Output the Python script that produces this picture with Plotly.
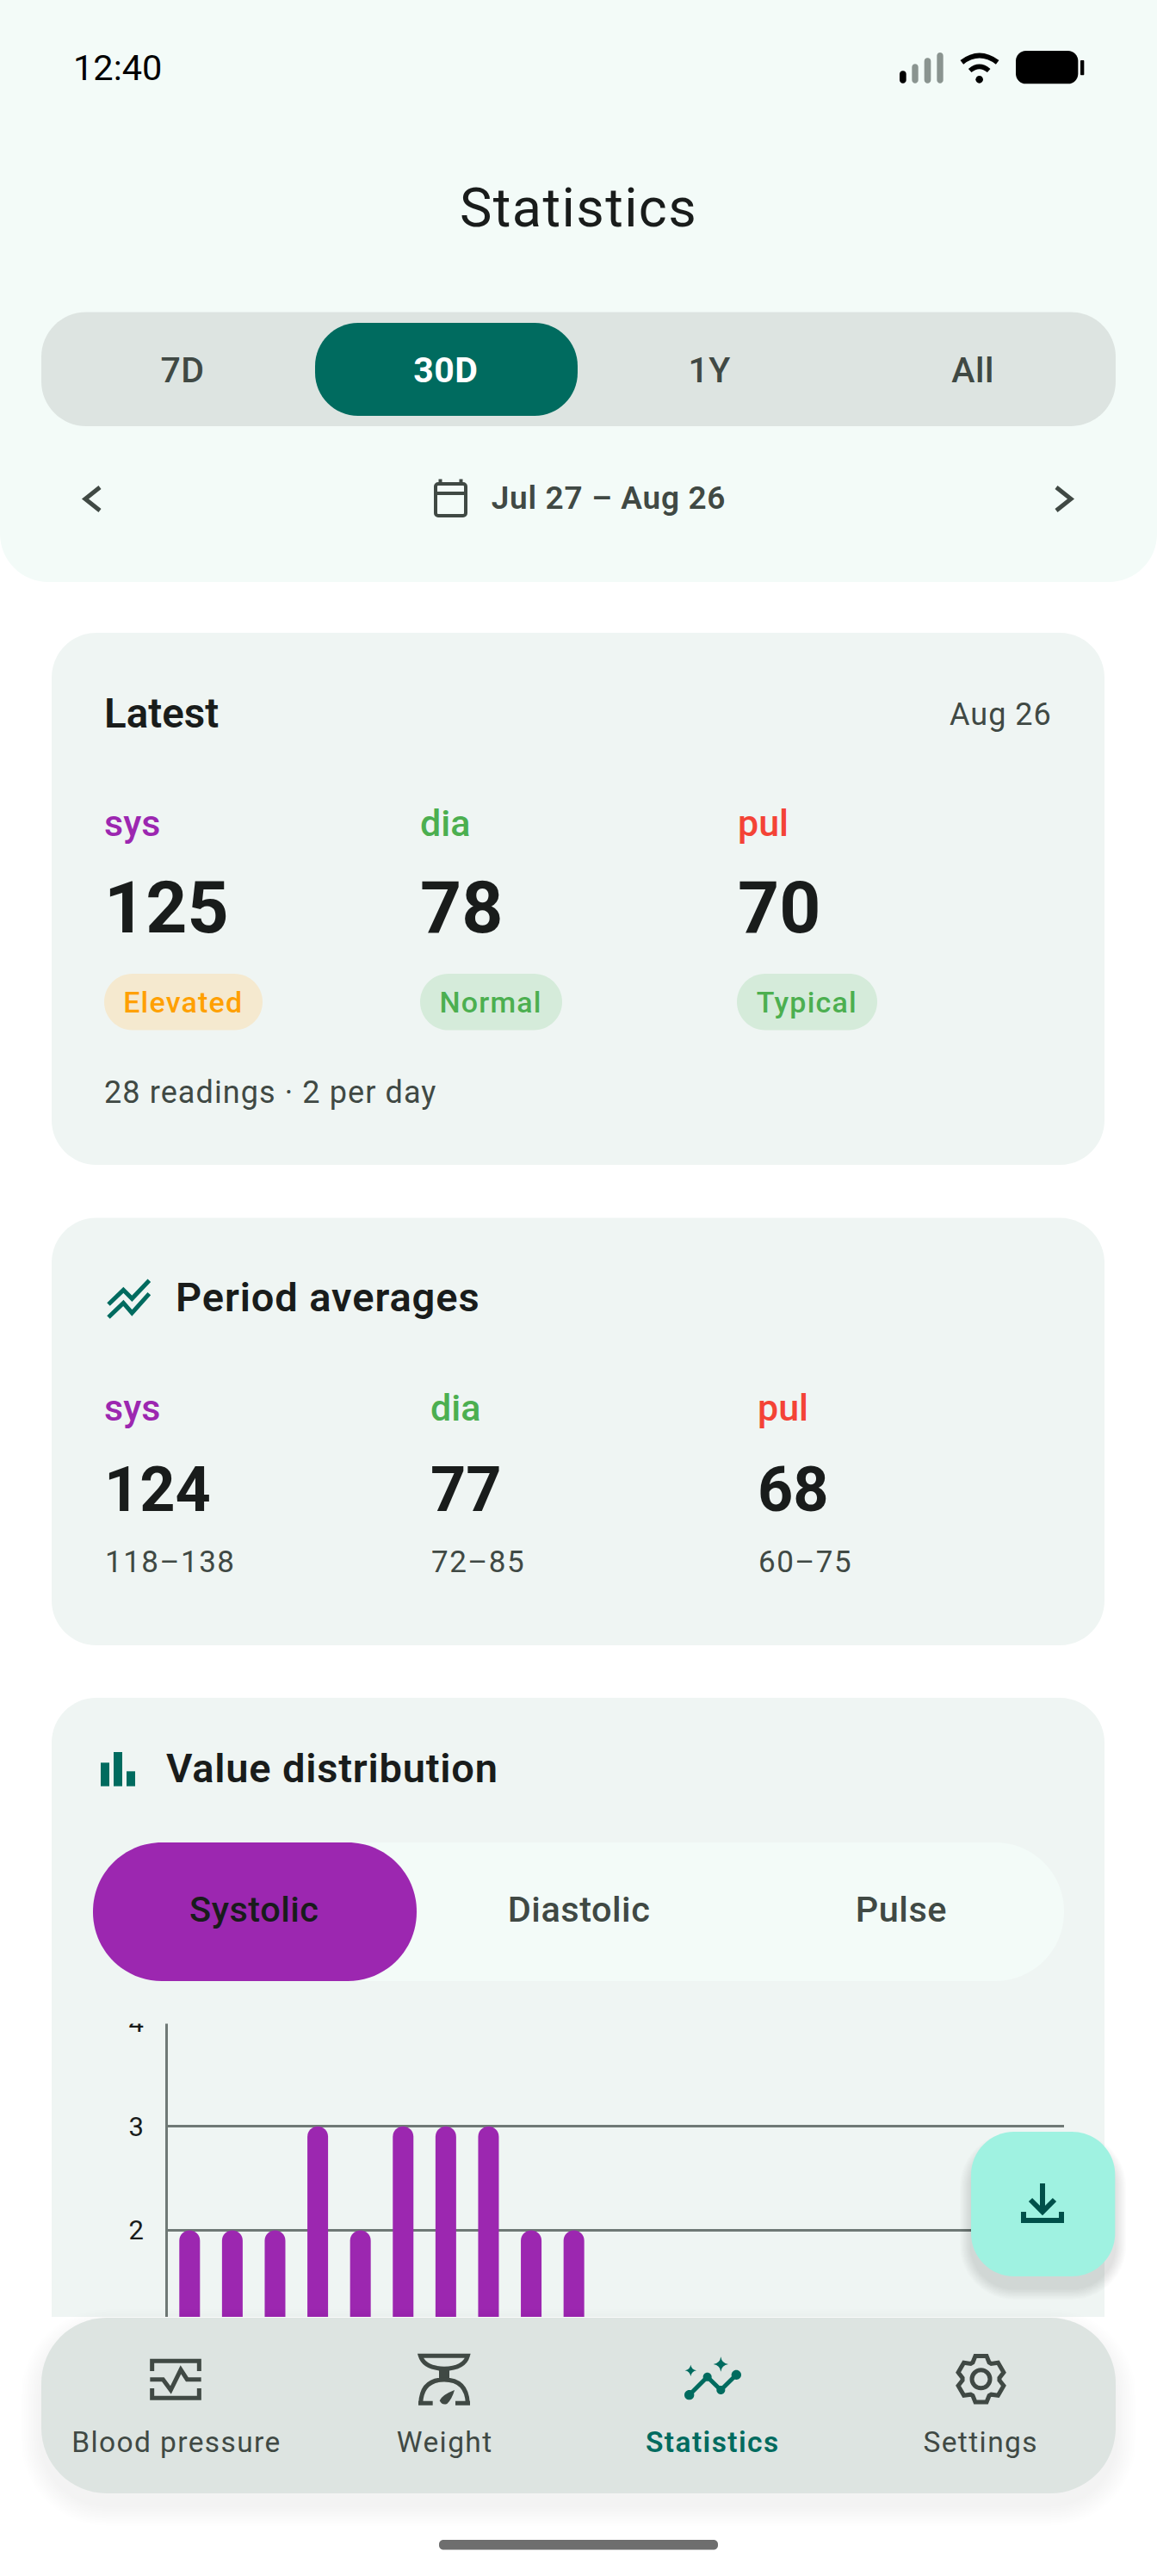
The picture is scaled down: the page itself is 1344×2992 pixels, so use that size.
import json
import math
import re
import plotly.graph_objects as go

# ---------- data ----------
sys_bins = [118, 119, 120, 121, 122, 123, 124, 125, 126, 127]
sys_counts = [2, 2, 2, 3, 2, 3, 3, 3, 2, 2]
y_ticks = [2, 3, 4]
tabs = ["7D", "30D", "1Y", "All"]
seg_labels = ["Systolic", "Diastolic", "Pulse"]
nav_labels = ["Blood pressure", "Weight", "Statistics", "Settings"]
latest_vals = ["125", "78", "70"]
latest_tags = ["Elevated", "Normal", "Typical"]
avg_vals = ["124", "77", "68"]
avg_ranges = ["118–138", "72–85", "60–75"]
series_names = ["sys", "dia", "pul"]

# ---------- palette ----------
W, H = 1344, 2992
HEAD = "#F3FBF8"; CARD = "#EFF5F3"; BAR = "#DDE4E1"; TEAL = "#006B5F"
INK = "#191C1B"; SUB = "#404944"; GRID = "#6F7976"; PURPLE = "#9C27B0"
GREEN = "#4CAF50"; RED = "#F44336"; ORANGE = "#FFA000"; FAB = "#9FF2E1"
series_colors = [PURPLE, GREEN, RED]

fx = lambda x: round(x / W, 6)
fy = lambda y: round(1 - y / H, 6)
shapes, notes = [], []


def rr(x0, y0, x1, y1, r, corners=(1, 1, 1, 1)):
    k = 0.5523 * r
    tl, tr, br, bl = [r * c for c in corners]
    kl, kr, kb, kc = [k * c for c in corners]
    return (f"M{x0+tl},{y0} L{x1-tr},{y0} C{x1-tr+kr},{y0} {x1},{y0+tr-kr} {x1},{y0+tr} "
            f"L{x1},{y1-br} C{x1},{y1-br+kb} {x1-br+kb},{y1} {x1-br},{y1} "
            f"L{x0+bl},{y1} C{x0+bl-kc},{y1} {x0},{y1-bl+kc} {x0},{y1-bl} "
            f"L{x0},{y0+tl} C{x0},{y0+tl-kl} {x0+tl-kl},{y0} {x0+tl},{y0} Z")


def to_paper(path):
    return re.sub(r"(-?\d+\.?\d*),(-?\d+\.?\d*)",
                  lambda m: f"{fx(float(m[1]))},{fy(float(m[2]))}", path).replace(" ,", ",")


def add(path, fill=None, line=None, lw=0, layer="below", opacity=1):
    shapes.append(dict(type="path", path=to_paper(path), xref="paper", yref="paper", layer=layer,
                       fillcolor=fill or "rgba(0,0,0,0)", opacity=opacity,
                       line=dict(color=line or "rgba(0,0,0,0)", width=lw)))


def icon(path, ox, oy, s=1 / 3):
    return re.sub(r"(-?\d+\.?\d*),(-?\d+\.?\d*)",
                  lambda m: f"{ox+float(m[1])*s:.2f},{oy+float(m[2])*s:.2f}", path)


def circle(cx, cy, r):
    return rr(cx - r, cy - r, cx + r, cy + r, r)


def text(x, base, s, size, color, weight=400, anchor="left"):
    notes.append(dict(x=fx(x), y=fy(base - 0.342 * size), xref="paper", yref="paper", text=s,
                      showarrow=False, xanchor=anchor, yanchor="middle", borderpad=0, align=anchor,
                      font=dict(family="Roboto", size=size, color=color, weight=weight)))


def shadow(x0, y0, x1, y1, r, spread, dy, n, alpha):
    for i in range(n):
        d = spread * (n - i) / n
        add(rr(x0 - d, y0 - d + dy, x1 + d, y1 + d + dy, r + d), fill="#000000", layer="above", opacity=alpha)


# ---------- header ----------
add(rr(0, -60, W, 676, 56), fill=HEAD)
text(84, 93, "12:40", 41.5, "#000000")
for bx0, bx1, by0, col in [(45, 68, 127, "#000000"), (88, 110, 103, "#8A9490"), (131, 154, 82, "#8A9490"), (175, 197, 63, "#8A9490")]:
    add(icon(rr(bx0, by0, bx1, 170, 11), 1030, 40), fill=col)
add(icon("M262,97 Q323,50 386,97", 1030, 40), line="#000000", lw=6)
add(icon("M290,126 Q323,98 356,126", 1030, 40), line="#000000", lw=5.5)
add(icon(circle(323, 157, 13), 1030, 40), fill="#000000")
add(icon(rr(450, 57, 667, 172, 35), 1030, 40), fill="#000000")
add(icon(rr(675, 90, 688, 142, 3), 1030, 40), fill="#000000")
text(672, 263.5, "Statistics", 63, INK, anchor="center")

add(rr(48, 362.5, 1296, 495, 52), fill=BAR)
add(rr(366, 375, 671, 483, 50), fill=TEAL)
for s, cx in zip(tabs, [212, 518, 824, 1130]):
    sel = s == "30D"
    text(cx, 444, s, 41, "#FFFFFF" if sel else SUB, 700 if sel else 500, "center")

add("M116,566 L99,579.5 L116,593", line=SUB, lw=5)
add("M1227,566 L1244,579.5 L1227,593", line=SUB, lw=5)
add(rr(506, 562, 541, 599, 3), line=SUB, lw=4)
add("M506,573 L541,573", line=SUB, lw=4)
add("M511.5,556.5 L511.5,562 M535.5,556.5 L535.5,562", line=SUB, lw=4)
text(707, 591.2, "Jul 27 – Aug 26", 37, SUB, 600, "center")

# ---------- latest card ----------
add(rr(60, 735, 1283, 1353, 52), fill=CARD)
text(119.5, 845, "Latest", 47.5, INK, 600)
text(1223, 842.5, "Aug 26", 36, SUB, 400, "right")
pills = [(121, 305, "#F5E9CF", ORANGE), (488, 653, "#D5EBDA", GREEN), (856, 1019, "#D5EBDA", GREEN)]
for i, (name, col) in enumerate(zip(series_names, series_colors)):
    x = [119.5, 487, 855.5][i]
    text(x, 970.5, name, 43, col, 500)
    text(x, 1083, latest_vals[i], 84, INK, 700)
    p0, p1, pf, pc = pills[i]
    add(rr(p0, 1131, p1, 1196.5, 32.7), fill=pf)
    text((p0 + p1) / 2, 1175.5, latest_tags[i], 34, pc, 500, "center")
text(120, 1281, "28 readings · 2 per day", 36, SUB)

# ---------- averages card ----------
add(rr(60, 1414.6, 1283, 1911, 52), fill=CARD)
add(icon("M108,165 L160,115 L190,145 L250,82", 90, 1460), line=TEAL, lw=5)
add(icon("M108,210 L160,160 L190,195 L250,128", 90, 1460), line=TEAL, lw=5)
text(203, 1523, "Period averages", 47, INK, 600)
for i, (name, col) in enumerate(zip(series_names, series_colors)):
    x = [119.5, 498.5, 878.5][i]
    text(x, 1650, name, 43, col, 500)
    text(x, 1755, avg_vals[i], 72, INK, 700)
    text(x + 1, 1826, avg_ranges[i], 35, SUB)

# ---------- distribution card ----------
add(rr(60, 1972, 1283, 2691, 52, (1, 1, 0, 0)), fill=CARD)
for bx0, bx1, by0 in [(84, 114, 112), (129, 159, 75), (174, 204, 142)]:
    add(icon(f"M{bx0},{by0} L{bx1},{by0} L{bx1},194 L{bx0},194 Z", 89, 2010), fill=TEAL)
text(192, 2070, "Value distribution", 47, INK, 600)
add(rr(108, 2140, 1236, 2301, 80), fill=HEAD)
add(rr(108, 2140, 484, 2301, 80), fill=PURPLE)
for s, cx in zip(seg_labels, [296, 672, 1047.4]):
    text(cx, 2231.5, s, 41.5, INK if s == "Systolic" else SUB, 500, "center")

# strip that trims the chart's top tick the way the card scroll region does
add(rr(90, 2320, 1283, 2350.5, 0.01), fill=CARD, layer="above")

# ---------- FAB ----------
shadow(1128, 2476, 1295.3, 2644, 50, 13, 14, 10, 0.013)
add(rr(1128, 2476, 1295.3, 2644, 50), fill=FAB, layer="above")
DL = "#00504A"
add("M1211,2536 L1211,2568", line=DL, lw=6, layer="above")
add("M1197,2555 L1211,2569 L1225,2555", line=DL, lw=6, layer="above")
add("M1189,2569 L1189,2579 L1233,2579 L1233,2569", line=DL, lw=6, layer="above")

# ---------- nav ----------
shadow(48, 2692, 1296, 2896, 76, 24, 14, 12, 0.005)
add(rr(48, 2692, 1296, 2896, 76), fill=BAR, layer="above")
# blood pressure
add(icon("M140,102 L140,67 L304,67 L304,102 M140,162 L140,196 L304,196 L304,162", 130, 2720), line=SUB, lw=5, layer="above")
add(icon("M133,131 L178,131 L205,168 L240,97 L262,131 L311,131", 130, 2720), line=SUB, lw=5, layer="above")
# weight
add(icon("M1075,49 L1240,49 Q1228,92 1158,94 Q1088,92 1075,49 Z", 130, 2720), line=SUB, lw=5, layer="above")
add(icon("M1140,90 L1176,90 L1176,128 L1140,128 Z", 130, 2720), fill=SUB, layer="above")
add(icon("M1076,214 Q1080,132 1158,132 Q1236,132 1240,214", 130, 2720), line=SUB, lw=5, layer="above")
add(icon("M1068,214 L1118,214 M1197,214 L1248,214", 130, 2720), line=SUB, lw=5, layer="above")
add(icon("M1194,168 Q1150,185 1142,205 Q1150,222 1168,216 Q1185,200 1194,168 Z", 130, 2720), fill=SUB, layer="above")
# statistics
add(icon("M92,185 L155,122 L202,168 L256,115", 770, 2720), line=TEAL, lw=5, layer="above")
for cx, cy, r in [(92, 185, 17), (155, 122, 15), (202, 168, 15), (256, 115, 17)]:
    add(icon(circle(cx, cy, r), 770, 2720), fill=TEAL, layer="above")
for cx, cy, r in [(202, 78, 26), (97, 100, 20)]:
    add(icon(f"M{cx},{cy-r} Q{cx+3},{cy-3} {cx+r},{cy} Q{cx+3},{cy+3} {cx},{cy+r} Q{cx-3},{cy+3} {cx-r},{cy} Q{cx-3},{cy-3} {cx},{cy-r} Z",
             770, 2720), fill=TEAL, layer="above")
# settings gear
gx, gy = 1139.5, 2763.3
pts = []
for k in range(6):
    a = math.radians(-90 + 60 * k)
    for da, R in [(-0.46, 21.5), (-0.24, 27.5), (0.24, 27.5), (0.46, 21.5)]:
        pts.append((gx + R * math.cos(a + da), gy + R * math.sin(a + da)))
add("M" + " L".join(f"{px:.2f},{py:.2f}" for px, py in pts) + " Z", line=SUB, lw=5, layer="above")
add(circle(gx, gy, 10.5), line=SUB, lw=5, layer="above")
for s, cx in zip(nav_labels, [204.5, 516, 828, 1139.5]):
    sel = s == "Statistics"
    text(cx, 2847.5, s, 33.5, TEAL if sel else SUB, 600 if sel else 400, "center")

add(rr(510, 2950, 834, 2961.5, 5), fill="#6E6E6E", layer="above")

# ---------- chart ----------
fig = go.Figure(go.Bar(x=sys_bins, y=sys_counts, width=0.484, marker=dict(color=PURPLE, line=dict(width=0)),
                       hoverinfo="skip"))
fig.update_layout(
    width=W, height=H, margin=dict(l=0, r=0, t=0, b=0, autoexpand=False), autosize=False, showlegend=False,
    paper_bgcolor="#FFFFFF", plot_bgcolor="rgba(0,0,0,0)", barcornerradius=12,
    shapes=shapes, annotations=notes,
    xaxis=dict(domain=[fx(195), fx(1236)], range=[117.49, 138.48], visible=False, fixedrange=True),
    yaxis=dict(domain=[1 - 2691 / H, 1 - 2349 / H], range=[1.167, 4], tickmode="array", tickvals=y_ticks,
               ticktext=[str(t) for t in y_ticks], tickfont=dict(family="Roboto", size=31, color=INK),
               showgrid=True, gridcolor=GRID, gridwidth=3, zeroline=False, showline=True, linecolor=GRID,
               linewidth=2.5, ticks="", ticklabelstandoff=19, fixedrange=True),
)

spacing = {"Blood pressure": 1.4, "Weight": 1.4, "Statistics": 1.4, "Settings": 1.4, "Jul 27 – Aug 26": 0.7,
           "Elevated": 1.2, "Normal": 1.2, "Typical": 1.2, "28 readings · 2 per day": 1.1, "Aug 26": 1,
           "118–138": 1.5, "72–85": 1.5, "60–75": 1.5, "7D": 0.5, "1Y": 0.5, "All": 0.5, "30D": 0.5,
           "Period averages": 0.9, "Value distribution": 0.8, "Systolic": 0.5, "Diastolic": 0.5, "Pulse": 0.5}
post = ("document.body.style.margin='0';document.documentElement.style.overflow='hidden';var ls=" + json.dumps(spacing) +
        ";document.querySelectorAll('.annotation-text').forEach(function(e){var v=ls[e.textContent];"
        "if(v){e.style.letterSpacing=v+'px';}});")
fig.write_html("out.html", config={"displayModeBar": False}, post_script=post)
